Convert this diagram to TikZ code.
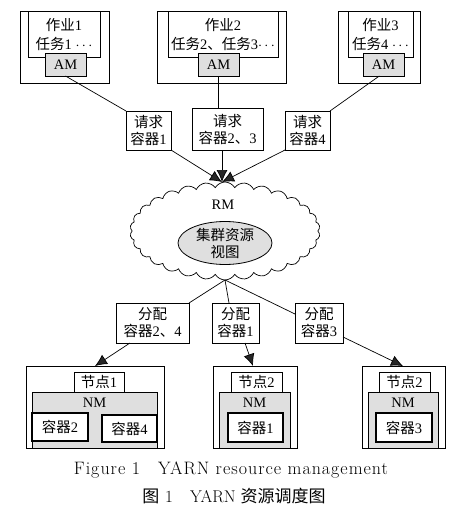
\documentclass[tikz,border=0pt]{standalone}
\usepackage{fontspec}
\setmainfont{Liberation Serif}
\newfontfamily\cjk{Noto Sans CJK SC}
\newfontfamily\capfont{Latin Modern Roman}
\newfontfamily\capwide[LetterSpace=5.5]{Latin Modern Roman}
\usetikzlibrary{arrows.meta,shapes.symbols,shapes.geometric}
\newcommand{\zh}[1]{{\cjk #1}}
\begin{document}
\begin{tikzpicture}[x=1pt,y=-1pt,
  every node/.style={inner sep=0pt,outer sep=0pt,font=\fontsize{14.5}{17}\selectfont},
  box/.style={draw,line width=0.8pt,rectangle,align=center},
  graybox/.style={box,fill=gray!25},
  cbox/.style={draw,line width=1.3pt,fill=white,rectangle,align=center},
  conn/.style={line width=0.7pt},
  arr/.style={line width=0.7pt,-{Latex[length=12pt,width=11pt,fill=gray!30!black]}}
]
\useasboundingbox (0,0) rectangle (455,514);
% top job boxes
\node[box,minimum width=89pt,minimum height=72pt] (o1) at (64.5,47) {};
\node[box,minimum width=72pt,minimum height=46pt] (i1) at (64,34) {};
\node (t1a) at (64,25) {\zh{作业}1};
\node (t1b) at (64,44) {\zh{任务}1 $\cdots$};
\node[graybox,minimum width=41pt,minimum height=23pt] (am1) at (65.5,64.5) {AM};

\node[box,minimum width=129pt,minimum height=72pt] (o2) at (221.5,47) {};
\node[box,minimum width=110pt,minimum height=46pt] (i2) at (223,34) {};
\node (t2a) at (223,25) {\zh{作业}2};
\node (t2b) at (223,44) {\zh{任务}2\zh{、任务}3$\cdots$};
\node[graybox,minimum width=41pt,minimum height=23pt] (am2) at (218.5,64.5) {AM};

\node[box,minimum width=82pt,minimum height=72pt] (o3) at (379,47) {};
\node[box,minimum width=65pt,minimum height=46pt] (i3) at (380.5,34) {};
\node (t3a) at (380.5,25) {\zh{作业}3};
\node (t3b) at (380.5,44) {\zh{任务}4 $\cdots$};
\node[graybox,minimum width=41pt,minimum height=23pt] (am3) at (383.5,64.5) {AM};

% request boxes
\node[box,minimum width=45pt,minimum height=39pt] (r1) at (148.5,130.5) {\zh{请求}\\\zh{容器}1};
\node[box,minimum width=71pt,minimum height=42pt] (r2) at (227.5,129) {\zh{请求}\\\zh{容器}2\zh{、}3};
\node[box,minimum width=45pt,minimum height=39pt] (r3) at (307.5,130.5) {\zh{请求}\\\zh{容器}4};

% cloud RM
\node[cloud,draw,line width=0.7pt,cloud puffs=30,cloud puff arc=120,aspect=2,
      minimum width=190pt,minimum height=98pt] (rm) at (225,231) {};
\node (rmt) at (223,205) {RM};
\node[ellipse,draw,line width=0.8pt,fill=gray!25,minimum width=94pt,minimum height=40pt,align=center] (view) at (225,243) {\zh{集群资源}\\\zh{视图}};
\coordinate (rmtop) at (222,182);
\coordinate (rmbot) at (225,280);

% connectors top
\draw[conn] (am1.south) -- (r1.north west);
\draw[conn] (am2.south) -- (am2.south |- r2.north);
\draw[conn] (am3.250) -- (r3.north east);
\draw[arr] (r1.south east) -- (rmtop);
\draw[arr] (r2.south -| rmtop) -- (rmtop);
\draw[arr] (r3.south west) -- (rmtop);

% allocation boxes
\node[box,minimum width=73pt,minimum height=40pt] (a1) at (152.5,323) {\zh{分配}\\\zh{容器}2\zh{、}4};
\node[box,minimum width=47pt,minimum height=40pt] (a2) at (235.5,323) {\zh{分配}\\\zh{容器}1};
\node[box,minimum width=48pt,minimum height=40pt] (a3) at (319,323) {\zh{分配}\\\zh{容器}3};
\draw[conn] (rmbot) -- (a1.north east);
\draw[conn] (rmbot) -- (a2.north -| 229,0);
\draw[conn] (rmbot) -- (a3.west |- 0,314);

% node boxes
\node[box,minimum width=138pt,minimum height=82pt] (n1) at (95,407) {};
\node[box,fill=white,minimum width=50pt,minimum height=20pt] (l1) at (99,382) {\zh{节点}1};
\node[graybox,minimum width=125pt,minimum height=56pt] (nm1) at (94.5,420) {};
\node (nm1t) at (94.5,403) {NM};
\node[cbox,minimum width=56pt,minimum height=28pt] (c2) at (60,427) {\zh{容器}2};
\node[cbox,minimum width=55pt,minimum height=27pt] (c4) at (129.5,428.5) {\zh{容器}4};

\node[box,minimum width=84pt,minimum height=82pt] (n2) at (255,407) {};
\node[box,fill=white,minimum width=51pt,minimum height=20pt] (l2) at (256.5,382) {\zh{节点}2};
\node[graybox,minimum width=71pt,minimum height=56pt] (nm2) at (254.5,420) {};
\node (nm2t) at (254.5,403) {NM};
\node[cbox,minimum width=55pt,minimum height=29pt] (c1) at (255.5,427.5) {\zh{容器}1};

\node[box,minimum width=83pt,minimum height=82pt] (n3) at (403.5,407) {};
\node[box,fill=white,minimum width=51pt,minimum height=20pt] (l3) at (404.5,382) {\zh{节点}2};
\node[graybox,minimum width=70pt,minimum height=56pt] (nm3) at (403,420) {};
\node (nm3t) at (403,403) {NM};
\node[cbox,minimum width=56pt,minimum height=29pt] (c3) at (404,427.5) {\zh{容器}3};

\draw[arr] (a1.south west) ++(14,0) coordinate (a1s) (a1s) -- (95,366) coordinate (n1t);
\draw[arr] (a2.south -| 245,0) -- (n2.north -| 253,0);
\draw[arr] (a3.east |- 0,337) -- (n3.north -| 403,0);

% captions
\node[font=\capwide\fontsize{18}{21}\selectfont] (cap1) at (231,470) {Figure 1\hspace{1em}YARN resource management};
\node[font=\capfont\fontsize{17}{20}\selectfont] (cap2) at (234,496) {\zh{图}\hspace{0.35em}1\hspace{1em}YARN\hspace{0.3em}\zh{资源调度图}};
\end{tikzpicture}
\end{document}
